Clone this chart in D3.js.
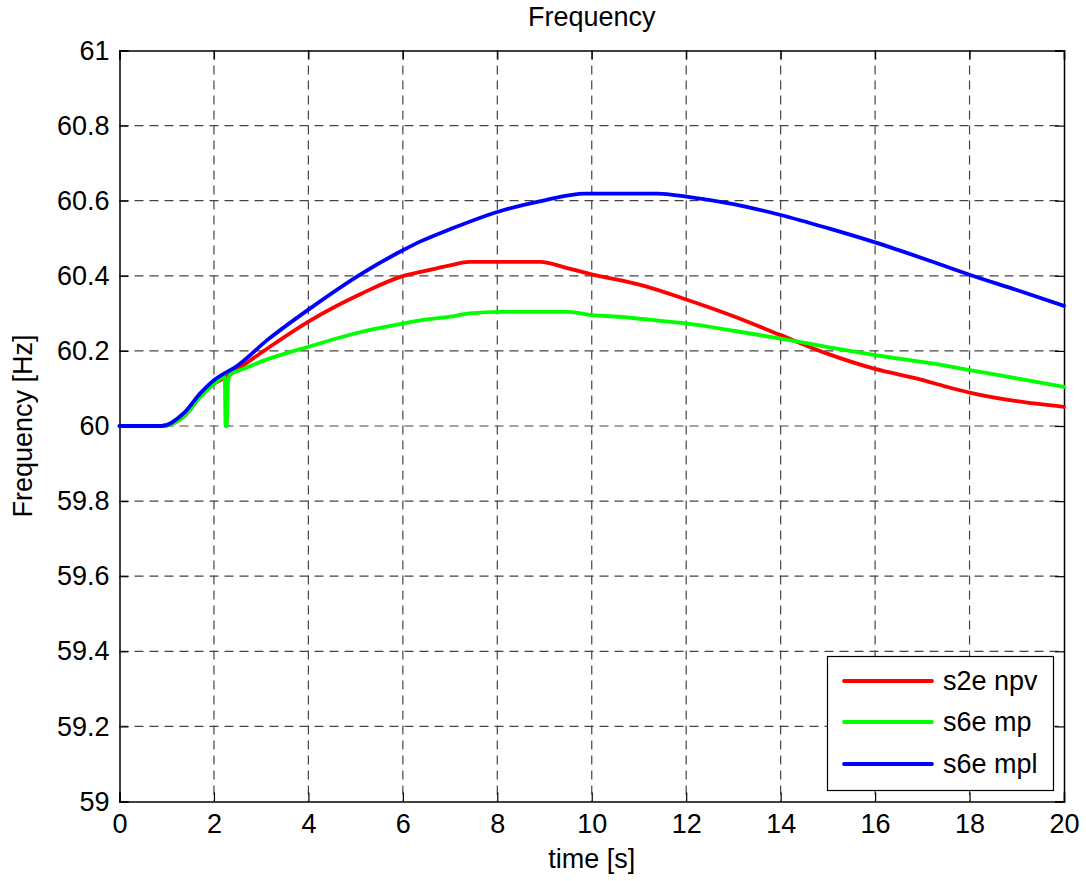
<!DOCTYPE html>
<html><head><meta charset="utf-8">
<script src="https://cdn.jsdelivr.net/npm/d3@7"></script>
<style>
body{margin:0;background:#fff;}
text{font-family:"Liberation Sans",Arial,sans-serif;fill:#000;}
</style></head>
<body>
<svg id="chart" width="1086" height="881"></svg>
<script>
const chartTitle = "Frequency";
const xLabel = "time [s]";
const yLabel = "Frequency [Hz]";
const seriesNames = ["s2e npv", "s6e mp", "s6e mpl"];
const seriesColors = ["#ff0000", "#00ff00", "#0000ff"];
const xTicks = [0,2,4,6,8,10,12,14,16,18,20];
const yTicks = [59,59.2,59.4,59.6,59.8,60,60.2,60.4,60.6,60.8,61];

const redT = [0,0.9,1.36,1.71,2.0,2.28,2.43,3.14,4,5.13,6,6.4,7,7.4,8.9,9.5,10,11.05,12,13.03,14,15,16,16.93,17.5,18,19,20];
const redV = [60,60,60.025,60.078,60.112,60.132,60.145,60.207,60.278,60.353,60.399,60.411,60.428,60.437,60.437,60.420,60.404,60.375,60.337,60.291,60.242,60.192,60.152,60.125,60.105,60.089,60.066,60.051];

const greenT = [0,0.9,1.36,1.71,2.0,2.23,2.245,2.27,2.30,2.36,2.47,3.14,4,5.13,6,6.4,7,7.4,8.1,9.5,10,10.7,11.05,12,13.03,14,15,16,17.43,18,19,20];
const greenV = [60,60,60.025,60.078,60.112,60.13,60.0,60.0,60.12,60.14,60.145,60.178,60.211,60.251,60.273,60.282,60.291,60.300,60.304,60.304,60.295,60.290,60.285,60.273,60.253,60.233,60.210,60.189,60.162,60.149,60.127,60.104];

const blueT = [0,0.9,1.36,1.71,2.0,2.28,2.43,3.14,4,5.13,6,6.4,7,8,9,9.85,11.4,12,13.03,14,15,16,17.43,18,19,20];
const blueV = [60,60,60.034,60.087,60.122,60.144,60.155,60.230,60.310,60.406,60.468,60.493,60.524,60.570,60.601,60.619,60.619,60.611,60.590,60.562,60.527,60.489,60.428,60.403,60.362,60.320];

const series = [
  {name: seriesNames[0], color: seriesColors[0], t: redT, v: redV},
  {name: seriesNames[1], color: seriesColors[1], t: greenT, v: greenV},
  {name: seriesNames[2], color: seriesColors[2], t: blueT, v: blueV}
];

const L = 119.5, R = 1064, T = 50.5, B = 801.5;
const FS = 27;
const svg = d3.select("#chart");
const x = d3.scaleLinear().domain([0,20]).range([L,R]);
const y = d3.scaleLinear().domain([59,61]).range([B,T]);

// grid
const grid = svg.append("g");
grid.selectAll(".gx").data(xTicks.slice(1,-1)).enter().append("line")
  .attr("x1", d=>x(d)).attr("x2", d=>x(d)).attr("y1", T).attr("y2", B)
  .attr("stroke", "#444").attr("stroke-width", 1.2).attr("stroke-dasharray", "9,6");
grid.selectAll(".gy").data(yTicks.slice(1,-1)).enter().append("line")
  .attr("y1", d=>y(d)).attr("y2", d=>y(d)).attr("x1", L).attr("x2", R)
  .attr("stroke", "#444").attr("stroke-width", 1.2).attr("stroke-dasharray", "9,6");

// axes
const tl = 9;
const xb = svg.append("g").attr("transform", `translate(0,${B})`)
  .call(d3.axisBottom(x).tickValues(xTicks).tickSize(-tl).tickPadding(12).tickFormat(d3.format("d")));
const xt = svg.append("g").attr("transform", `translate(0,${T})`)
  .call(d3.axisTop(x).tickValues(xTicks).tickSize(-tl).tickFormat(""));
const yl = svg.append("g").attr("transform", `translate(${L},0)`)
  .call(d3.axisLeft(y).tickValues(yTicks).tickSize(-tl).tickPadding(10).tickFormat(d=>d3.format("")(+d.toFixed(1))));
const yr = svg.append("g").attr("transform", `translate(${R},0)`)
  .call(d3.axisRight(y).tickValues(yTicks).tickSize(-tl).tickFormat(""));
[xb,xt,yl,yr].forEach(g=>{
  g.select(".domain").attr("stroke","#000").attr("stroke-width",1.5);
  g.selectAll(".tick line").attr("stroke","#000").attr("stroke-width",1.2);
  g.selectAll("text").style("font-size", FS+"px").style("font-family","Liberation Sans, Arial, sans-serif").attr("fill","#000");
});
xb.selectAll(".tick text").attr("dy", "0.71em");

// lines
const line = d3.line().x(d=>x(d[0])).y(d=>y(d[1])).curve(d3.curveMonotoneX);
svg.append("g").selectAll("path").data(series).enter().append("path")
  .attr("d", s=>line(s.t.map((t,i)=>[t, s.v[i]])))
  .attr("fill","none").attr("stroke", s=>s.color).attr("stroke-width", 3.8)
  .attr("stroke-linejoin","round").attr("stroke-linecap","round");

// title and labels
svg.append("text").attr("x", (L+R)/2).attr("y", 26).attr("text-anchor","middle")
  .style("font-size", FS+"px").text(chartTitle);
svg.append("text").attr("x", (L+R)/2).attr("y", 868).attr("text-anchor","middle")
  .style("font-size", FS+"px").text(xLabel);
svg.append("text").attr("transform", `translate(32,${(T+B)/2}) rotate(-90)`).attr("text-anchor","middle")
  .style("font-size", FS+"px").text(yLabel);

// legend
const lg = svg.append("g");
lg.append("rect").attr("x", 827.5).attr("y", 656.5).attr("width", 226).attr("height", 134)
  .attr("fill","#fff").attr("stroke","#000").attr("stroke-width",1.2);
const ly = [681, 722, 764];
series.forEach((s,i)=>{
  lg.append("line").attr("x1", 844).attr("x2", 932).attr("y1", ly[i]).attr("y2", ly[i])
    .attr("stroke", s.color).attr("stroke-width", 3.8).attr("stroke-linecap","round");
  lg.append("text").attr("x", 943).attr("y", ly[i]).attr("dy","0.35em")
    .style("font-size", FS+"px").text(s.name);
});
</script>
</body></html>
